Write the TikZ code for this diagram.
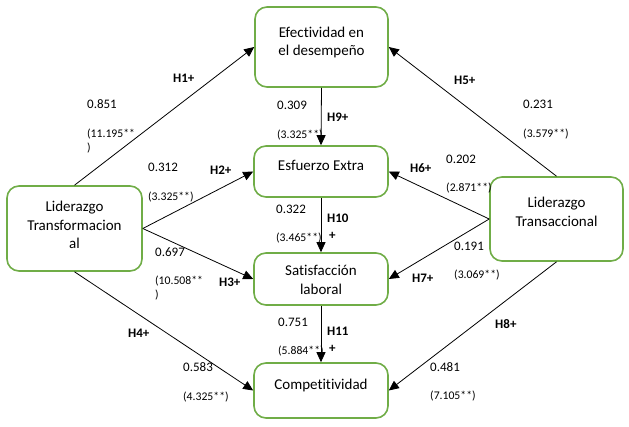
\documentclass[tikz,border=0pt]{standalone}
\usepackage{fontspec}
\setmainfont{Carlito}[Ligatures=NoCommon]
\usetikzlibrary{arrows.meta}
\definecolor{boxgreen}{RGB}{112,173,71}
\newcommand{\bxtxt}[2]{\raisebox{#1}[0pt][0pt]{\begin{tabular}{@{}c@{}}#2\end{tabular}}}
\begin{document}
\begin{tikzpicture}[x=1pt,y=-1pt,
  box/.style={draw=boxgreen, line width=1.6pt, rounded corners=12pt, align=center,
    font=\fontsize{15}{18.5}\selectfont, inner sep=0pt},
  arr/.style={-{Triangle[length=10pt,width=9pt]}, line width=0.8pt},
  coef/.style={anchor=west, inner sep=0pt, font=\fontsize{13}{15}\selectfont},
  tval/.style={anchor=west, inner sep=0pt, font=\fontsize{11.7}{14}\selectfont},
  hyp/.style={anchor=west, inner sep=0pt, font=\bfseries\fontsize{13}{15}\selectfont}]
\useasboundingbox (0,0) rectangle (629,426);
\fill[white] (0,0) rectangle (629,426);

% boxes
\node[box, minimum width=133pt, minimum height=80pt] (ef) at (321.5,47) {\bxtxt{0.8pt}{Efectividad en\\el desempeño}};
\node[box, minimum width=134pt, minimum height=51pt] (es) at (321,171.5) {\bxtxt{1.5pt}{Esfuerzo Extra}};
\node[box, minimum width=134pt, minimum height=52pt] (sa) at (321,279) {\bxtxt{-6pt}{Satisfacción\\laboral}};
\node[box, minimum width=134pt, minimum height=55pt] (co) at (321,390.5) {\bxtxt{1.5pt}{Competitividad}};
\node[box, minimum width=135pt, minimum height=85pt] (tf) at (74.5,228.5) {\bxtxt{-1.8pt}{Liderazgo\\Transformacion\\al}};
\node[box, minimum width=133pt, minimum height=84pt] (tc) at (556.5,219) {\bxtxt{2.3pt}{Liderazgo\\Transaccional}};

% connectors
\draw[arr] (tf.north) -- (ef.west);
\draw[arr] (tf.east) -- (es.west);
\draw[arr] (tf.east) -- (sa.west);
\draw[arr] (tf.south) -- (co.west);
\draw[arr] (tc.north) -- (ef.east);
\draw[arr] (tc.west) -- (es.east);
\draw[arr] (tc.west) -- (sa.east);
\draw[arr] (tc.south) -- (co.east);
\draw[arr] (ef.south) -- (es.north);
\draw[arr] (es.south) -- (sa.north);
\draw[arr] (sa.south) -- (co.north);

% labels left
\node[hyp]  (h1)  at (173,78)  {H1+};
\node[coef] (c1)  at (87,104)  {0.851};
\node[tval] (t1)  at (87,134)  {(11.195**};
\node[tval] (t1b) at (87,148)  {)};
\node[coef] (c2)  at (148,167) {0.312};
\node[tval] (t2)  at (148,197) {(3.325**)};
\node[hyp]  (h2)  at (210,170) {H2+};
\node[coef] (c3)  at (155,252) {0.697};
\node[tval] (t3)  at (155,281) {(10.508**};
\node[tval] (t3b) at (155,295) {)};
\node[hyp]  (h3)  at (219,282) {H3+};
\node[hyp]  (h4)  at (128,333) {H4+};
\node[coef] (c4)  at (183,367) {0.583};
\node[tval] (t4)  at (183,397) {(4.325**)};

% labels centre
\node[coef] (c9)  at (277,105) {0.309};
\node[hyp]  (h9)  at (327,117) {H9+};
\node[tval] (t9)  at (277,135) {(3.325**)};
\node[coef] (c10) at (276,209) {0.322};
\node[hyp]  (h10) at (327,218) {H10};
\node[tval] (t10) at (276,238) {(3.465**)};
\node[hyp]  (p10) at (329,236) {+};
\node[coef] (c11) at (278,322) {0.751};
\node[hyp]  (h11) at (327,331) {H11};
\node[tval] (t11) at (278,351) {(5.884**)};
\node[hyp]  (p11) at (329,349) {+};

% labels right
\node[hyp]  (h5)  at (454,80)  {H5+};
\node[coef] (c5)  at (523,104) {0.231};
\node[tval] (t5)  at (523,134) {(3.579**)};
\node[coef] (c6)  at (446,159) {0.202};
\node[hyp]  (h6)  at (410,168) {H6+};
\node[tval] (t6)  at (446,188) {(2.871**)};
\node[coef] (c7)  at (454,246) {0.191};
\node[hyp]  (h7)  at (412,278) {H7+};
\node[tval] (t7)  at (454,275) {(3.069**)};
\node[hyp]  (h8)  at (495,324) {H8+};
\node[coef] (c8)  at (430,367) {0.481};
\node[tval] (t8)  at (430,396) {(7.105**)};
\end{tikzpicture}
\end{document}
